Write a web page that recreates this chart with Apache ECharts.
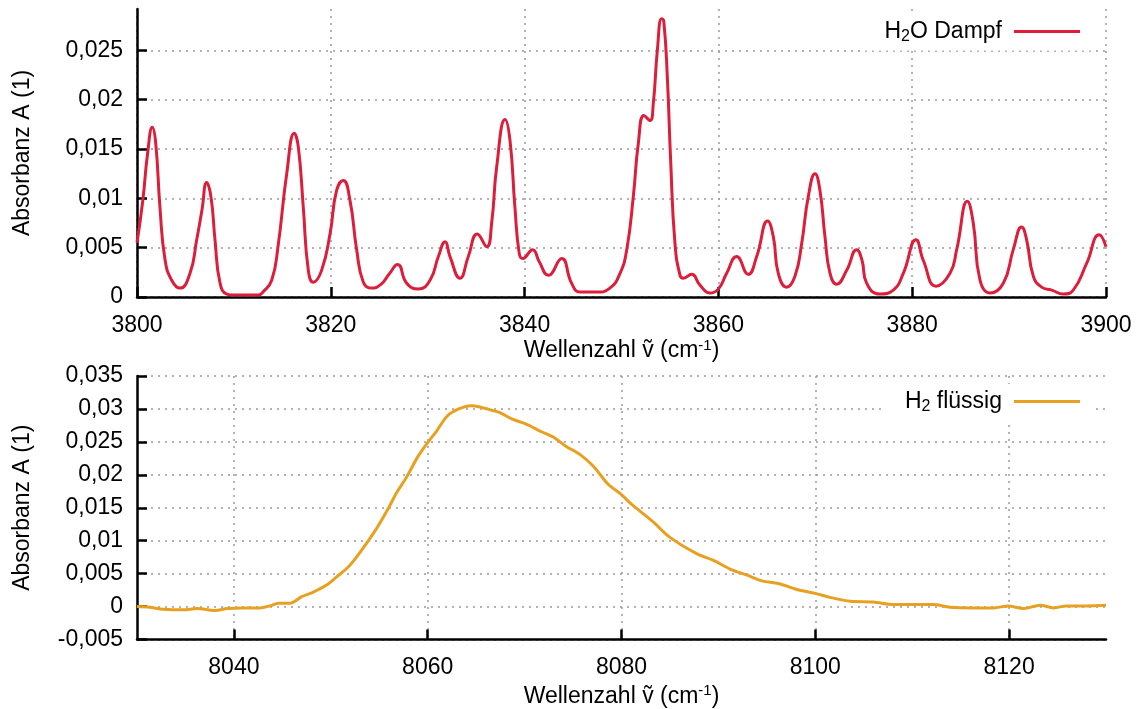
<!DOCTYPE html>
<html>
<head>
<meta charset="utf-8">
<script src="https://cdn.jsdelivr.net/npm/echarts@6/dist/echarts.min.js"></script>
<style>
  html, body { margin: 0; padding: 0; background: #fff; }
  #chart { width: 1136px; height: 709px; }
</style>
</head>
<body>
<div id="chart"></div>
<script>
// H2O vapour spectrum, 3800–3900 cm^-1
const vaporWavenumber = [
  3800.0, 3800.6, 3801.1, 3801.58, 3801.93, 3802.37, 3802.89, 3803.58, 3804.44, 3805.47,
  3806.16, 3806.7, 3807.19, 3807.64, 3808.05, 3808.57, 3809.26, 3810.0, 3811.5, 3812.5,
  3813.0, 3813.9, 3814.55, 3815.45, 3816.23, 3816.65, 3817.16, 3817.68, 3818.19, 3819.05,
  3819.92, 3820.6, 3821.29, 3821.98, 3822.67, 3823.36, 3824.2, 3825.2, 3826.0, 3826.9,
  3827.83, 3829.03, 3830.24, 3831.1, 3831.79, 3832.3, 3833.33, 3834.19, 3835.12, 3836.09,
  3836.6, 3837.12, 3837.98, 3838.49, 3839.0, 3839.45, 3839.8, 3840.83, 3841.5, 3842.45,
  3843.83, 3844.85, 3845.72, 3847.44, 3848.8, 3849.85, 3850.54, 3851.22, 3851.74, 3852.32,
  3852.94, 3853.28, 3853.7, 3854.14, 3854.36, 3854.73, 3855.07, 3855.52, 3856.04, 3856.38,
  3857.24, 3858.1, 3859.13, 3859.99, 3860.85, 3861.88, 3863.08, 3863.95, 3865.08, 3865.67,
  3866.18, 3867.04, 3867.9, 3868.59, 3869.28, 3869.97, 3870.48, 3871.0, 3871.52, 3872.2,
  3873.24, 3874.27, 3874.8, 3875.3, 3876.68, 3878.05, 3879.08, 3880.39, 3881.15, 3882.46,
  3883.9, 3884.59, 3885.69, 3886.3, 3887.0, 3888.03, 3889.4, 3890.43, 3891.29, 3891.81,
  3892.5, 3893.36, 3894.39, 3895.59, 3896.62, 3898.0, 3899.3, 3900.0
];
const vaporAbsorbance = [
  0.0055, 0.0098, 0.0146, 0.0172, 0.0156, 0.0091, 0.0038, 0.0017, 0.0009, 0.0024,
  0.0058, 0.0088, 0.0116, 0.0101, 0.0058, 0.0014, 0.0003, 0.0002, 0.0002, 0.0002,
  0.0005, 0.0017, 0.0051, 0.0125, 0.0166, 0.0152, 0.0091, 0.0027, 0.0015, 0.0027,
  0.0064, 0.0108, 0.0118, 0.0098, 0.0048, 0.0015, 0.0009, 0.0013, 0.0023, 0.0033,
  0.0014, 0.0008, 0.0017, 0.0041, 0.0056, 0.0041, 0.0019, 0.0041, 0.0064, 0.0051,
  0.0075, 0.0132, 0.0180, 0.0159, 0.0091, 0.0044, 0.0039, 0.0048, 0.0036, 0.0022,
  0.0039, 0.0014, 0.0005, 0.0005, 0.0009, 0.0024, 0.0048, 0.0102, 0.0156, 0.0184,
  0.0179, 0.0196, 0.0250, 0.0282, 0.0280, 0.0223, 0.0139, 0.0054, 0.0022, 0.0019,
  0.0023, 0.0012, 0.0004, 0.0008, 0.0024, 0.0041, 0.0023, 0.0041, 0.0077, 0.0061,
  0.0024, 0.0010, 0.0021, 0.0054, 0.0102, 0.0125, 0.0108, 0.0061, 0.0024, 0.0013,
  0.0027, 0.0048, 0.0038, 0.0014, 0.0003, 0.0007, 0.0024, 0.0058, 0.0037, 0.0011,
  0.0024, 0.0048, 0.0097, 0.0075, 0.0017, 0.0004, 0.0014, 0.0048, 0.0071, 0.0058,
  0.0021, 0.0010, 0.0007, 0.0003, 0.0007, 0.0034, 0.0063, 0.0051
];

// Liquid H2 band, 8030–8130 cm^-1
const liquidWavenumber = [
  8030.0, 8031.3, 8032.7, 8034.8, 8036.2, 8038.05, 8039.3, 8041.0, 8042.7, 8043.7,
  8044.6, 8045.8, 8047.0, 8048.2, 8049.6, 8050.6, 8051.8, 8053.0, 8054.7, 8055.9,
  8056.8, 8057.8, 8059.0, 8060.0, 8060.9, 8062.0, 8063.2, 8064.5, 8065.4, 8066.6,
  8067.5, 8068.8, 8070.0, 8071.8, 8073.1, 8074.3, 8075.7, 8077.1, 8078.6, 8080.0,
  8080.9, 8081.9, 8083.3, 8085.0, 8087.8, 8089.5, 8091.2, 8092.9, 8094.5, 8096.2,
  8098.1, 8100.0, 8101.5, 8103.6, 8106.0, 8108.1, 8110.1, 8112.2, 8113.9, 8116.3,
  8118.4, 8119.9, 8121.5, 8123.2, 8124.6, 8125.9, 8128.0, 8130.0
];
const liquidAbsorbance = [
  0.0000, -0.0001, -0.0004, -0.0005, -0.0003, -0.0006, -0.0003, -0.0002, -0.0002, 0.0001,
  0.0005, 0.0005, 0.0015, 0.0022, 0.0033, 0.0045, 0.0060, 0.0082, 0.0118, 0.0148,
  0.0173, 0.0196, 0.0228, 0.0249, 0.0266, 0.0289, 0.0300, 0.0305, 0.0303, 0.0298,
  0.0294, 0.0284, 0.0278, 0.0265, 0.0256, 0.0243, 0.0231, 0.0213, 0.0186, 0.0170,
  0.0157, 0.0145, 0.0128, 0.0105, 0.0080, 0.0070, 0.0057, 0.0048, 0.0039, 0.0035,
  0.0026, 0.0020, 0.0014, 0.0008, 0.0007, 0.0003, 0.0003, 0.0003, -0.0001, -0.0002,
  -0.0002, 0.0001, -0.0003, 0.0002, -0.0002, 0.0001, 0.0001, 0.0002
];

// Tick positions
const vaporTicksX = [3800, 3820, 3840, 3860, 3880, 3900];
const vaporTicksY = [0, 0.005, 0.01, 0.015, 0.02, 0.025];
const liquidTicksX = [8040, 8060, 8080, 8100, 8120];
const liquidTicksY = [-0.005, 0, 0.005, 0.01, 0.015, 0.02, 0.025, 0.03, 0.035];

const FONT = "'Liberation Sans', Arial, Helvetica, sans-serif";
const FS = 23;

const zip = (xs, ys) => xs.map((x, i) => [x, ys[i]]);
const decimalComma = v => String(v).replace('.', ',');

const gridLine = { show: true, lineStyle: { color: '#9a9a9a', width: 1.5, type: [2, 5] } };

function xAxis(gridIndex, min, max, ticks, gap) {
  return {
    type: 'value', gridIndex, min, max,
    name: 'Wellenzahl ṽ (cm{sup|-1})',
    nameLocation: 'middle', nameGap: gap,
    nameTextStyle: {
      color: '#000', fontFamily: FONT, fontSize: FS,
      rich: { sup: { fontFamily: FONT, fontSize: 15, color: '#000', padding: [0, 0, 11, 0] } }
    },
    axisLine: { onZero: false, lineStyle: { color: '#000', width: 2.5 } },
    axisTick: { inside: true, length: 10, lineStyle: { color: '#000', width: 2.5 }, customValues: ticks },
    axisLabel: { color: '#000', fontFamily: FONT, fontSize: FS, margin: 17, customValues: ticks, formatter: v => String(v) },
    splitLine: gridLine
  };
}

function yAxis(gridIndex, min, max, ticks) {
  return {
    type: 'value', gridIndex, min, max,
    name: 'Absorbanz A (1)',
    nameLocation: 'middle', nameGap: 103,
    nameTextStyle: { color: '#000', fontFamily: FONT, fontSize: FS },
    axisLine: { show: true, onZero: false, lineStyle: { color: '#000', width: 2.5 } },
    axisTick: { show: true, inside: true, length: 10, lineStyle: { color: '#000', width: 2.5 }, customValues: ticks },
    axisLabel: { color: '#000', fontFamily: FONT, fontSize: FS, margin: 14, customValues: ticks, formatter: decimalComma },
    splitLine: gridLine
  };
}

function legend(name, label, top) {
  return {
    data: [{ name, icon: 'rect' }],
    right: 44, top,
    orient: 'horizontal',
    align: 'right',
    backgroundColor: '#fff',
    padding: [6, 12, 6, 21],
    itemWidth: 66, itemHeight: 3,
    selectedMode: false,
    formatter: () => label,
    textStyle: {
      color: '#000', fontFamily: FONT, fontSize: FS, padding: [0, 7, 0, 0],
      rich: { sub: { fontFamily: FONT, fontSize: 16, color: '#000', padding: [10, 0, 0, 0] } }
    }
  };
}

const chart = echarts.init(document.getElementById('chart'), null, { renderer: 'canvas' });
chart.setOption({
  backgroundColor: '#fff',
  animation: false,
  grid: [
    { left: 137, right: 30, top: 9, height: 288 },
    { left: 137, right: 30, top: 376, height: 265 }
  ],
  xAxis: [
    xAxis(0, 3800, 3900, vaporTicksX, 27),
    xAxis(1, 8030, 8130, liquidTicksX, 44)
  ],
  yAxis: [
    yAxis(0, 0, 0.0292, vaporTicksY),
    yAxis(1, -0.005, 0.035, liquidTicksY)
  ],
  legend: [
    legend('H2O Dampf', 'H{sub|2}O Dampf', 14),
    legend('H2 flüssig', 'H{sub|2} flüssig', 384)
  ],
  series: [
    {
      name: 'H2O Dampf', type: 'line', xAxisIndex: 0, yAxisIndex: 0,
      data: zip(vaporWavenumber, vaporAbsorbance),
      showSymbol: false, symbol: 'none', smooth: 0.5,
      lineStyle: { color: '#dc1e3a', width: 3 }, itemStyle: { color: '#dc1e3a' }, z: 3
    },
    {
      name: 'H2 flüssig', type: 'line', xAxisIndex: 1, yAxisIndex: 1,
      data: zip(liquidWavenumber, liquidAbsorbance),
      showSymbol: false, symbol: 'none', smooth: 0.3,
      lineStyle: { color: '#e8a020', width: 3 }, itemStyle: { color: '#e8a020' }, z: 3
    }
  ]
});
</script>
</body>
</html>
